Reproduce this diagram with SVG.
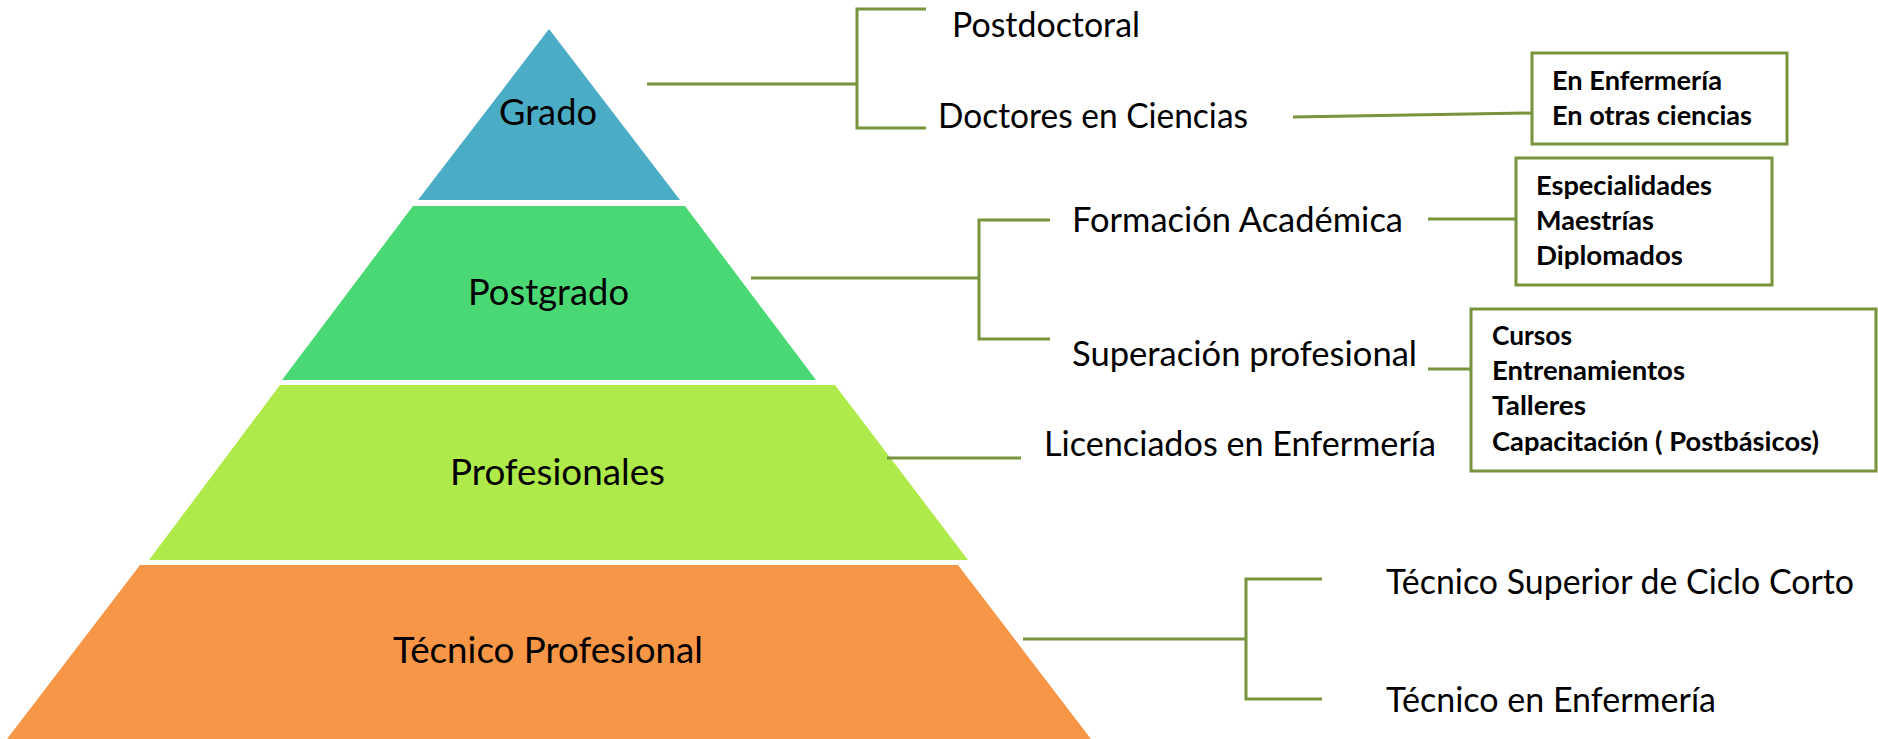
<svg xmlns="http://www.w3.org/2000/svg" width="1878" height="739" viewBox="0 0 1878 739">
<style>
.tier-label{font-family:Lato,"Open Sans","Liberation Sans",sans-serif;font-size:36px;fill:#000;}
.lbl{font-family:Lato,"Open Sans","Liberation Sans",sans-serif;font-size:34px;fill:#000;}
.blbl{font-family:Lato,"Open Sans","Liberation Sans",sans-serif;font-size:27px;font-weight:bold;fill:#000;}
.conn{stroke:#77933C;stroke-width:3;fill:none;}
.box{stroke:#77933C;stroke-width:3;fill:#fff;}
</style>
<rect width="1878" height="739" fill="#fff"/>
<g id="tier-grado">
<polygon points="549,29 680,200 418,200" fill="#4BACC6"/>
<text class="tier-label" x="499" y="125" textLength="98" lengthAdjust="spacingAndGlyphs">Grado</text>
</g>
<g id="tier-postgrado">
<polygon points="413,206 685,206 816,380 282,380" fill="#4AD874"/>
<text class="tier-label" x="468" y="305" textLength="161" lengthAdjust="spacingAndGlyphs">Postgrado</text>
</g>
<g id="tier-profesionales">
<polygon points="280,385 835,385 968,560 149,560" fill="#AEEA4A"/>
<text class="tier-label" x="450" y="485" textLength="215" lengthAdjust="spacingAndGlyphs">Profesionales</text>
</g>
<g id="tier-tecnico">
<polygon points="140,565 958,565 1091,739 7,739" fill="#F79646"/>
<text class="tier-label" x="393" y="663" textLength="310" lengthAdjust="spacingAndGlyphs">Técnico Profesional</text>
</g>
<g id="connectors">
<path class="conn" d="M647,84 H857 M926,9 H857 V128 H926"/>
<path class="conn" d="M1293,117 L1532,113"/>
<path class="conn" d="M751,278 H979 M1050,220 H979 V339 H1050"/>
<path class="conn" d="M1428,219 H1516"/>
<path class="conn" d="M1428,369 H1471"/>
<path class="conn" d="M887,458 H1021"/>
<path class="conn" d="M1023,639 H1246 M1322,579 H1246 V699 H1322"/>
</g>
<g id="n-postdoctoral"><text class="lbl" x="952" y="37" textLength="188" lengthAdjust="spacingAndGlyphs">Postdoctoral</text></g>
<g id="n-doctores"><text class="lbl" x="938" y="128" textLength="310" lengthAdjust="spacingAndGlyphs">Doctores en Ciencias</text></g>
<g id="n-formacion"><text class="lbl" x="1072" y="232" textLength="331" lengthAdjust="spacingAndGlyphs">Formación Académica</text></g>
<g id="n-superacion"><text class="lbl" x="1072" y="366" textLength="345" lengthAdjust="spacingAndGlyphs">Superación profesional</text></g>
<g id="n-licenciados"><text class="lbl" x="1044" y="456" textLength="392" lengthAdjust="spacingAndGlyphs">Licenciados en Enfermería</text></g>
<g id="n-tecnico-superior"><text class="lbl" x="1386" y="594" textLength="468" lengthAdjust="spacingAndGlyphs">Técnico Superior de Ciclo Corto</text></g>
<g id="n-tecnico-enf"><text class="lbl" x="1386" y="712" textLength="330" lengthAdjust="spacingAndGlyphs">Técnico en Enfermería</text></g>
<g id="box-doctores">
<rect class="box" x="1532" y="53" width="255" height="91"/>
<text class="blbl" x="1552" y="90" textLength="170" lengthAdjust="spacingAndGlyphs">En Enfermería</text>
<text class="blbl" x="1552" y="125" textLength="200" lengthAdjust="spacingAndGlyphs">En otras ciencias</text>
</g>
<g id="box-formacion">
<rect class="box" x="1516" y="158" width="256" height="127"/>
<text class="blbl" x="1536" y="195" textLength="176" lengthAdjust="spacingAndGlyphs">Especialidades</text>
<text class="blbl" x="1536" y="230" textLength="118" lengthAdjust="spacingAndGlyphs">Maestrías</text>
<text class="blbl" x="1536" y="265" textLength="147" lengthAdjust="spacingAndGlyphs">Diplomados</text>
</g>
<g id="box-superacion">
<rect class="box" x="1471" y="309" width="405" height="162"/>
<text class="blbl" x="1492" y="345" textLength="80" lengthAdjust="spacingAndGlyphs">Cursos</text>
<text class="blbl" x="1492" y="380" textLength="193" lengthAdjust="spacingAndGlyphs">Entrenamientos</text>
<text class="blbl" x="1492" y="415" textLength="94" lengthAdjust="spacingAndGlyphs">Talleres</text>
<text class="blbl" x="1492" y="451" textLength="327" lengthAdjust="spacingAndGlyphs">Capacitación ( Postbásicos)</text>
</g>
</svg>
